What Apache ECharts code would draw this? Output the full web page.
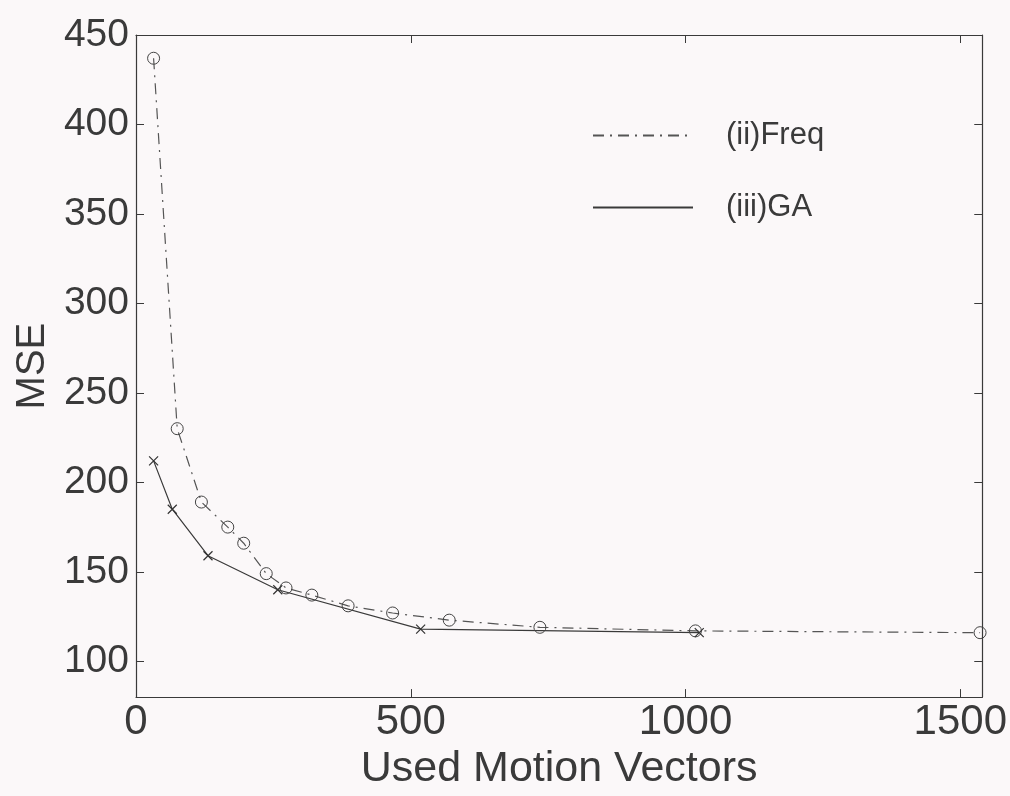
<!DOCTYPE html>
<html>
<head>
<meta charset="utf-8">
<script src="https://cdn.jsdelivr.net/npm/echarts@6/dist/echarts.min.js"></script>
<style>
html,body{margin:0;padding:0;background:#fbf8f9;}
#chart{width:1010px;height:796px;}
</style>
</head>
<body>
<div id="chart"></div>
<script>
// Data
var freqX = [32, 75, 119, 167, 196, 237, 273, 320, 386, 467, 570, 735, 1018, 1536];
var freqY = [437, 230, 189, 175, 166, 149, 141, 137, 131, 127, 123, 119, 117, 116];
var gaX = [32, 66, 131, 258, 518, 1025];
var gaY = [212, 185, 159, 140, 118, 116];
var seriesNames = ['(ii)Freq', '(iii)GA'];
var xTitle = 'Used Motion Vectors';
var yTitle = 'MSE';

function pairs(xs, ys) { return xs.map(function (x, i) { return [x, ys[i]]; }); }

var ink = '#3a3a3a';
var font = 'Liberation Sans, Arial, Helvetica, sans-serif';

var chart = echarts.init(document.getElementById('chart'), null, { renderer: 'canvas' });
var tickCommon = { show: true, inside: true, length: 8, lineStyle: { color: ink, width: 1 } };
var lineCommon = { show: true, onZero: false, lineStyle: { color: ink, width: 1.2 } };

chart.setOption({
  backgroundColor: '#fbf8f9',
  animation: false,
  grid: { left: 136, right: 22, top: 35, bottom: 91, containLabel: false },
  legend: {
    orient: 'vertical',
    left: 587,
    top: 115,
    itemWidth: 100,
    itemHeight: 16,
    itemGap: 41,
    itemStyle: { opacity: 0 },
    textStyle: { fontSize: 31, color: ink, fontFamily: font, padding: [0, 0, 0, 28] },
    data: seriesNames
  },
  xAxis: [{
    type: 'value', min: 0, max: 1540, interval: 500, position: 'bottom',
    axisLine: lineCommon, axisTick: tickCommon, splitLine: { show: false },
    axisLabel: { fontSize: 42, color: ink, fontFamily: font, margin: 4,
      formatter: function (v) { return v % 500 === 0 ? String(v) : ''; } },
    name: xTitle, nameLocation: 'middle', nameGap: 44,
    nameTextStyle: { fontSize: 43, color: ink, fontFamily: font }
  }, {
    type: 'value', min: 0, max: 1540, interval: 500, position: 'top',
    axisLine: lineCommon, axisTick: tickCommon, splitLine: { show: false },
    axisLabel: { show: false }
  }],
  yAxis: [{
    type: 'value', min: 80, max: 450, minInterval: 50, maxInterval: 50, position: 'left',
    axisLine: lineCommon, axisTick: tickCommon, splitLine: { show: false },
    axisLabel: { fontSize: 39, color: ink, fontFamily: font, margin: 7,
      formatter: function (v) { return v % 50 === 0 ? String(v) : ''; } },
    name: yTitle, nameLocation: 'middle', nameGap: 82,
    nameTextStyle: { fontSize: 40, color: ink, fontFamily: font }
  }, {
    type: 'value', min: 80, max: 450, minInterval: 50, maxInterval: 50, position: 'right',
    axisLine: lineCommon, axisTick: tickCommon, splitLine: { show: false },
    axisLabel: { show: false }
  }],
  series: [{
    name: seriesNames[0], type: 'line', xAxisIndex: 0, yAxisIndex: 0,
    data: pairs(freqX, freqY),
    symbol: 'circle', symbolSize: 12,
    itemStyle: { color: 'rgba(0,0,0,0)', borderColor: '#444', borderWidth: 1 },
    lineStyle: { color: '#555', width: 1.2, type: [11, 6, 2, 6] },
    emphasis: { disabled: true }
  }, {
    name: seriesNames[1], type: 'line', xAxisIndex: 0, yAxisIndex: 0,
    data: pairs(gaX, gaY),
    symbol: 'path://M0,0L10,10M10,0L0,10', symbolSize: 9,
    itemStyle: { color: 'rgba(0,0,0,0)', borderColor: '#333', borderWidth: 1.2 },
    lineStyle: { color: '#3a3a3a', width: 1.2, type: 'solid' },
    emphasis: { disabled: true }
  }]
});
</script>
</body>
</html>
